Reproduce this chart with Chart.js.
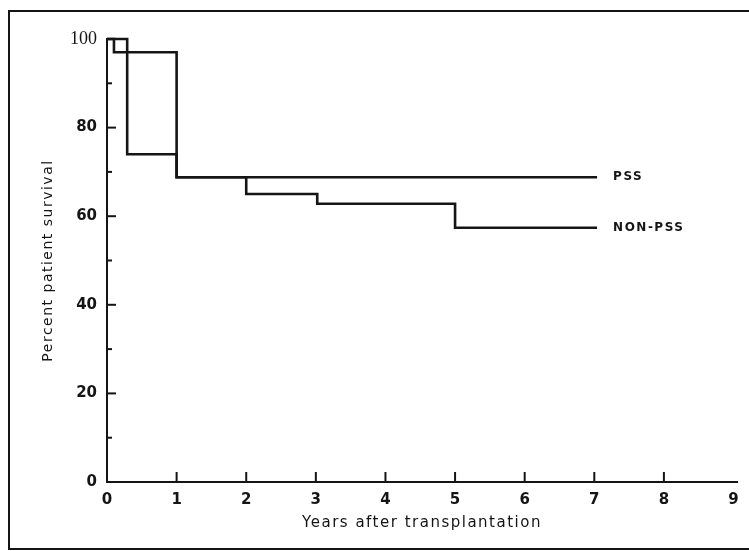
<!DOCTYPE html>
<html>
<head>
<meta charset="utf-8">
<script src="https://cdn.jsdelivr.net/npm/chart.js@4/dist/chart.umd.min.js"></script>
<style>
  html, body { margin: 0; padding: 0; background: #fff; overflow: hidden; }
  #wrap { position: relative; width: 749px; height: 551px; overflow: hidden; }
  #frame { position: absolute; left: 8px; top: 10px; width: 900px; height: 536px; border: 2px solid #151515; }
  #survival { position: absolute; left: 0; top: 0; }
</style>
</head>
<body>
<div id="wrap">
  <div id="frame"></div>
  <canvas id="survival" width="749" height="551"></canvas>
</div>
<script>
// values
var pssYears = [0, 0.1, 1, 7.04];
var pssSurvival = [100, 97, 68.8, 68.8];
var nonPssYears = [0, 0.29, 1, 2, 3.02, 5, 7.04];
var nonPssSurvival = [100, 74, 68.8, 65, 62.8, 57.4, 57.4];
var seriesNames = ["PSS", "NON-PSS"];
var labelYear = 7.27;

var ink = "#151515";

function toPoints(xs, ys) {
    return xs.map(function (x, i) { return { x: x, y: ys[i] }; });
}

// inward tick marks + curve end labels
var extrasPlugin = {
    id: "extras",
    afterDatasetsDraw: function (chart) {
        var ctx = chart.ctx;
        var xs = chart.scales.x, ys = chart.scales.y;
        ctx.save();
        ctx.strokeStyle = ink;
        ctx.lineWidth = 2;
        ys.ticks.forEach(function (t) {
            if (t.value <= 0) return;
            var py = ys.getPixelForValue(t.value);
            var len = t.value % 20 === 0 ? 9 : 5;
            ctx.beginPath();
            ctx.moveTo(xs.left, py);
            ctx.lineTo(xs.left + len, py);
            ctx.stroke();
        });
        xs.ticks.forEach(function (t) {
            if (t.value <= 0 || t.value >= 9) return;
            var px = xs.getPixelForValue(t.value);
            ctx.beginPath();
            ctx.moveTo(px, ys.bottom);
            ctx.lineTo(px, ys.bottom - 10);
            ctx.stroke();
        });
        ctx.fillStyle = ink;
        ctx.letterSpacing = "1.5px";
        ctx.font = "bold 12px 'DejaVu Sans'";
        ctx.textBaseline = "middle";
        ctx.textAlign = "left";
        chart.data.datasets.forEach(function (ds) {
            var last = ds.data[ds.data.length - 1];
            ctx.fillText(ds.label, xs.getPixelForValue(labelYear), ys.getPixelForValue(last.y));
        });
        ctx.restore();
    }
};

// wide spacing for the axis titles only (tick labels are drawn later, z = 1)
var spacingPlugin = {
    id: "spacing",
    beforeDraw: function (chart) {
        chart.ctx.letterSpacing = "1.5px";
    },
    afterDatasetsDraw: function (chart) {
        chart.ctx.letterSpacing = "0px";
    }
};

new Chart(document.getElementById("survival"), {
    type: "line",
    data: {
        datasets: [
            {
                label: seriesNames[0],
                data: toPoints(pssYears, pssSurvival),
                stepped: "before",
                borderColor: ink,
                borderWidth: 2.6,
                pointRadius: 0,
                fill: false,
                clip: false
            },
            {
                label: seriesNames[1],
                data: toPoints(nonPssYears, nonPssSurvival),
                stepped: "before",
                borderColor: ink,
                borderWidth: 2.6,
                pointRadius: 0,
                fill: false,
                clip: false
            }
        ]
    },
    options: {
        responsive: false,
        animation: false,
        devicePixelRatio: 1,
        layout: { padding: { left: 0, top: 39, right: 12, bottom: 0 } },
        plugins: {
            legend: { display: false },
            tooltip: { enabled: false }
        },
        scales: {
            x: {
                type: "linear",
                min: 0,
                max: 9.05,
                afterFit: function (s) { s.height = 69; },
                grid: { display: false, drawTicks: false },
                border: { display: true, color: ink, width: 2 },
                ticks: {
                    z: 1,
                    stepSize: 1,
                    includeBounds: false,
                    padding: 9,
                    color: ink,
                    font: { family: "'DejaVu Sans'", size: 15, weight: "bold" }
                },
                title: {
                    display: true,
                    text: "Years after transplantation",
                    color: ink,
                    font: { family: "'DejaVu Sans'", size: 15 },
                    padding: { top: 0, bottom: 19 }
                }
            },
            y: {
                min: 0,
                max: 100,
                afterFit: function (s) { s.width = 107; },
                grid: { display: false, drawTicks: false },
                border: { display: true, color: ink, width: 2 },
                ticks: {
                    z: 1,
                    stepSize: 10,
                    padding: 10,
                    color: ink,
                    callback: function (v) { return v % 20 === 0 ? v : ""; },
                    font: function (c) {
                        if (c.tick && c.tick.value === 100) return { family: "'Liberation Serif'", size: 18 };
                        return { family: "'DejaVu Sans'", size: 15, weight: "bold" };
                    }
                },
                title: {
                    display: true,
                    text: "Percent patient survival",
                    color: ink,
                    font: { family: "'DejaVu Sans'", size: 14 },
                    padding: { top: 40, bottom: 0 }
                }
            }
        }
    },
    plugins: [spacingPlugin, extrasPlugin]
});
</script>
</body>
</html>
